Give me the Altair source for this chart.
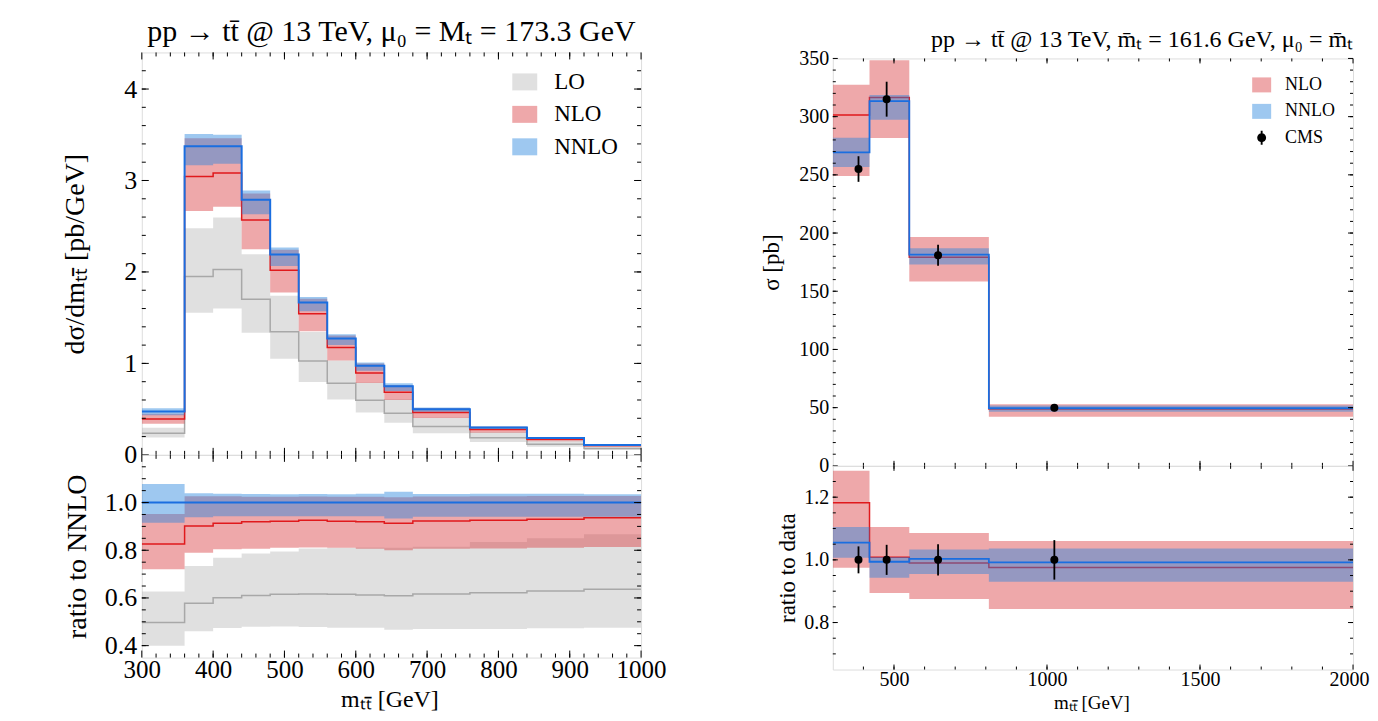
import altair as alt
import pandas as pd

FONT = "Liberation Serif"

# ---------------- left panel: dsigma/dm_tt, pole mass ----------------
L_EDGES = [300, 360, 400, 440, 480, 520, 560, 600, 640, 680, 760, 840, 920, 1000]
L_NNLO_C = [0.473, 3.375, 3.375, 2.790, 2.190, 1.665, 1.273, 0.975, 0.749, 0.500, 0.300, 0.185, 0.109]
L_NNLO_HI = [0.510, 3.507, 3.500, 2.890, 2.267, 1.725, 1.318, 1.011, 0.783, 0.518, 0.311, 0.192, 0.113]
L_NNLO_LO = [0.433, 3.166, 3.183, 2.631, 2.065, 1.570, 1.200, 0.919, 0.699, 0.471, 0.282, 0.174, 0.103]
L_NLO_C = [0.391, 3.044, 3.081, 2.567, 2.019, 1.542, 1.174, 0.896, 0.684, 0.462, 0.278, 0.172, 0.102]
L_NLO_HI = [0.450, 3.463, 3.463, 2.857, 2.243, 1.707, 1.304, 0.998, 0.765, 0.513, 0.308, 0.190, 0.112]
L_NLO_LO = [0.341, 2.666, 2.714, 2.249, 1.774, 1.352, 1.031, 0.786, 0.599, 0.403, 0.242, 0.150, 0.089]
L_LO_C = [0.235, 1.951, 2.028, 1.702, 1.347, 1.027, 0.783, 0.597, 0.456, 0.309, 0.187, 0.116, 0.069]
L_LO_HI = [0.297, 2.477, 2.595, 2.193, 1.741, 1.344, 1.031, 0.792, 0.607, 0.408, 0.251, 0.157, 0.0945]
L_LO_LO = [0.189, 1.553, 1.600, 1.336, 1.051, 0.796, 0.605, 0.463, 0.350, 0.235, 0.141, 0.0875, 0.052]

# ratio to NNLO
LR_NNLO_C = [1.0, 1.0, 1.0, 1.0, 1.0, 1.0, 1.0, 1.0, 1.0, 1.0, 1.0, 1.0, 1.0]
LR_NNLO_HI = [1.078, 1.039, 1.037, 1.036, 1.035, 1.036, 1.035, 1.037, 1.045, 1.036, 1.037, 1.037, 1.035]
LR_NNLO_LO = [0.915, 0.938, 0.943, 0.943, 0.943, 0.943, 0.943, 0.943, 0.933, 0.941, 0.941, 0.941, 0.941]
LR_NLO_C = [0.826, 0.902, 0.913, 0.920, 0.922, 0.926, 0.922, 0.919, 0.913, 0.923, 0.926, 0.930, 0.936]
LR_NLO_HI = [0.952, 1.026, 1.026, 1.024, 1.024, 1.025, 1.024, 1.024, 1.022, 1.025, 1.026, 1.027, 1.028]
LR_NLO_LO = [0.720, 0.790, 0.804, 0.806, 0.810, 0.812, 0.810, 0.806, 0.800, 0.806, 0.807, 0.810, 0.814]
LR_LO_C = [0.497, 0.578, 0.601, 0.610, 0.615, 0.617, 0.615, 0.612, 0.609, 0.617, 0.622, 0.629, 0.636]
LR_LO_HI = [0.627, 0.734, 0.769, 0.786, 0.795, 0.807, 0.810, 0.812, 0.810, 0.815, 0.835, 0.850, 0.867]
LR_LO_LO = [0.400, 0.460, 0.474, 0.479, 0.480, 0.478, 0.475, 0.475, 0.467, 0.470, 0.470, 0.473, 0.475]

L_X_TICKS = [300, 400, 500, 600, 700, 800, 900, 1000]
L_Y_TICKS = [0, 1, 2, 3, 4]
LR_Y_TICKS = [0.4, 0.6, 0.8, 1.0]

# ---------------- right panel: sigma per bin, MSbar mass ----------------
R_EDGES = [300, 420, 550, 810, 2000]
R_CMS_X = [384, 476, 644, 1024]
R_CMS = [255, 315, 181, 50]
R_CMS_LO = [244, 300, 172, 46.9]
R_CMS_HI = [266, 330, 190, 53.1]
R_NLO_C = [301.4, 316.5, 179.2, 48.8]
R_NLO_LO = [249.0, 281.6, 158.4, 42.2]
R_NLO_HI = [327.3, 348.5, 196.6, 53.0]
R_NNLO_C = [269.3, 313.4, 181.5, 49.6]
R_NNLO_LO = [256.7, 297.3, 172.9, 46.5]
R_NNLO_HI = [281.9, 318.5, 187.0, 51.8]

# ratio to data
RR_CMS = [1.0, 1.0, 1.0, 1.0]
RR_CMS_LO = [0.957, 0.952, 0.950, 0.937]
RR_CMS_HI = [1.043, 1.048, 1.050, 1.063]
RR_NLO_C = [1.182, 1.008, 0.990, 0.976]
RR_NLO_LO = [0.975, 0.894, 0.875, 0.843]
RR_NLO_HI = [1.284, 1.105, 1.086, 1.060]
RR_NNLO_C = [1.055, 0.994, 1.003, 0.992]
RR_NNLO_LO = [1.007, 0.943, 0.955, 0.930]
RR_NNLO_HI = [1.105, 1.009, 1.033, 1.036]

R_X_TICKS = [500, 1000, 1500, 2000]
R_Y_TICKS = [0, 50, 100, 150, 200, 250, 300, 350]
RR_Y_TICKS = [0.8, 1.0, 1.2]

# ---------------- styling ----------------
LO_FILL, NLO_FILL, NNLO_FILL = "#bababa", "#d93e42", "#2785de"
LO_LINE, NLO_LINE, NNLO_LINE = "#a8a8a8", "#e0191c", "#1a6ee0"
BAND_OP = 0.45

W_L, H_LM, H_LR = 500, 403, 203
W_R, H_RM, H_RR = 521, 408, 204


class Panel:
    def __init__(self, xdom, ydom, xax, yax, W, H):
        self.xdom, self.ydom, self.xax, self.yax, self.W, self.H = xdom, ydom, xax, yax, W, H

    def X(self, field):
        return alt.X(f"{field}:Q", scale=alt.Scale(domain=self.xdom, nice=False, zero=False),
                     axis=self.xax)

    def Y(self, field):
        return alt.Y(f"{field}:Q", scale=alt.Scale(domain=self.ydom, nice=False, zero=False),
                     axis=self.yax)


def step_df(edges, lo, hi=None, name=""):
    d = {"x": edges, "lo": list(lo) + [lo[-1]], "series": name}
    if hi is not None:
        d["hi"] = list(hi) + [hi[-1]]
    return pd.DataFrame(d)


def band(p, edges, lo, hi, name, fill):
    return alt.Chart(step_df(edges, lo, hi, name)).mark_area(
        interpolate="step-after", opacity=BAND_OP, clip=True
    ).encode(x=p.X("x"), y=p.Y("lo"), y2="hi", fill=fill)


def line(p, edges, vals, color, sw):
    return alt.Chart(step_df(edges, vals)).mark_line(
        interpolate="step-after", strokeWidth=sw, clip=True
    ).encode(x=p.X("x"), y=p.Y("lo"), color=alt.value(color))


def ticks(p, xmaj, xmin, ymaj, ymin, lmaj, lmin):
    out = []
    W, H = p.W, p.H
    for vals, L in ((xmaj, lmaj), (xmin, lmin)):
        d = pd.DataFrame({"t": vals})
        out.append(alt.Chart(d).mark_rule(color="black", strokeWidth=1).encode(
            x=p.X("t"), y=alt.value(H), y2=alt.value(H - L)))
        out.append(alt.Chart(d).mark_rule(color="black", strokeWidth=1).encode(
            x=p.X("t"), y=alt.value(0), y2=alt.value(L)))
    for vals, L in ((ymaj, lmaj), (ymin, lmin)):
        d = pd.DataFrame({"t": vals})
        out.append(alt.Chart(d).mark_rule(color="black", strokeWidth=1).encode(
            y=p.Y("t"), x=alt.value(0), x2=alt.value(L)))
        out.append(alt.Chart(d).mark_rule(color="black", strokeWidth=1).encode(
            y=p.Y("t"), x=alt.value(W), x2=alt.value(W - L)))
    return out


def text_mark(txt, x, y, size, align):
    return alt.Chart(pd.DataFrame({"s": [0]})).mark_text(
        text=txt, font=FONT, fontSize=size, align=align, baseline="alphabetic", color="black"
    ).encode(x=alt.value(x), y=alt.value(y))


def spacer(x1, x2, y):
    return alt.Chart(pd.DataFrame({"s": [0]})).mark_rule(strokeOpacity=0, opacity=0).encode(
        x=alt.value(x1), x2=alt.value(x2), y=alt.value(y))


def yaxis(vals, fmt, title, tx, ty, lsize, tsize, pad):
    return alt.Axis(values=vals, format=fmt, title=title, titleX=tx, titleY=ty,
                    titleBaseline="middle", titleAngle=270, titleFont=FONT, titleFontSize=tsize,
                    titleFontWeight="normal", titleColor="black",
                    labelFont=FONT, labelFontSize=lsize, labelColor="black", labelPadding=pad,
                    ticks=False, tickSize=0, domain=False, grid=False, labelFlush=False,
                    labelOverlap=False)


def xaxis(vals, fmt, title, tx, ty, lsize, tsize, pad, flush=0):
    extra = {"labelFlush": True, "labelFlushOffset": flush} if flush else {"labelFlush": False}
    return alt.Axis(values=vals, format=fmt, title=title, titleX=tx, titleY=ty,
                    titleBaseline="alphabetic", titleFont=FONT, titleFontSize=tsize,
                    titleFontWeight="normal", titleColor="black",
                    labelFont=FONT, labelFontSize=lsize, labelColor="black", labelPadding=pad,
                    ticks=False, tickSize=0, domain=False, grid=False,
                    labelOverlap=False, **extra)


# ---------------- left main ----------------
LXD, LYD, LRD = [300, 1000], [0, 4.4], [0.35, 1.2]
rect_l = "M-1,-0.68H1V0.68H-1Z"
fill_l = alt.Fill("series:N", scale=alt.Scale(domain=["LO", "NLO", "NNLO"],
                                              range=[LO_FILL, NLO_FILL, NNLO_FILL]),
                  legend=alt.Legend(orient="none", legendX=371, legendY=17, title=None,
                                    symbolType=rect_l, symbolSize=625, symbolOpacity=BAND_OP,
                                    symbolStrokeWidth=0, labelFont=FONT, labelFontSize=23,
                                    labelColor="black", labelOffset=17, rowPadding=7.5,
                                    padding=0))
pLM = Panel(LXD, LYD, None, yaxis(L_Y_TICKS, "d", "dσ/dmₜₜ̄ [pb/GeV]", -66, 201.5, 26, 28, 5),
            W_L, H_LM)
left_main = alt.layer(
    band(pLM, L_EDGES, L_LO_LO, L_LO_HI, "LO", fill_l),
    line(pLM, L_EDGES, L_LO_C, LO_LINE, 1.5),
    band(pLM, L_EDGES, L_NLO_LO, L_NLO_HI, "NLO", fill_l),
    line(pLM, L_EDGES, L_NLO_C, NLO_LINE, 1.5),
    band(pLM, L_EDGES, L_NNLO_LO, L_NNLO_HI, "NNLO", fill_l),
    line(pLM, L_EDGES, L_NNLO_C, NNLO_LINE, 2),
    *ticks(pLM, L_X_TICKS, list(range(320, 1000, 20)), L_Y_TICKS,
           [round(0.2 * i, 1) for i in range(1, 22)], 7, 4),
    text_mark("pp → tt̄ @ 13 TeV, μ₀ = Mₜ = 173.3 GeV", W_L / 2, -11, 30, "center"),
    spacer(-133, W_L + 40, -43),
).properties(width=W_L, height=H_LM)

# ---------------- left ratio ----------------
pLR = Panel(LXD, LRD,
            xaxis(L_X_TICKS, "d", "mₜₜ̄ [GeV]", 248, 49, 25, 24, 0),
            yaxis(LR_Y_TICKS, ".1f", "ratio to NNLO", -64, 101.5, 26, 28, 5),
            W_L, H_LR)
left_ratio = alt.layer(
    band(pLR, L_EDGES, LR_LO_LO, LR_LO_HI, "LO", alt.value(LO_FILL)),
    line(pLR, L_EDGES, LR_LO_C, LO_LINE, 1.5),
    band(pLR, L_EDGES, LR_NLO_LO, LR_NLO_HI, "NLO", alt.value(NLO_FILL)),
    line(pLR, L_EDGES, LR_NLO_C, NLO_LINE, 1.5),
    band(pLR, L_EDGES, LR_NNLO_LO, LR_NNLO_HI, "NNLO", alt.value(NNLO_FILL)),
    line(pLR, L_EDGES, LR_NNLO_C, NNLO_LINE, 2),
    *ticks(pLR, L_X_TICKS, list(range(320, 1000, 20)), LR_Y_TICKS,
           [round(0.35 + 0.05 * i, 2) for i in range(1, 17)], 7, 4),
).properties(width=W_L, height=H_LR)

# ---------------- right main ----------------
RXD, RYD, RRD = [300, 2000], [0, 350], [0.65, 1.3]
rect_r = "M-1,-0.79H1V0.79H-1Z"
cms_sym = "M-0.1,-0.74H0.1V0.74H-0.1Z M0.47,0A0.47,0.47 0 1,1 -0.47,0A0.47,0.47 0 1,1 0.47,0Z"
fill_r = alt.Fill("series:N", scale=alt.Scale(domain=["NLO", "NNLO"],
                                              range=[NLO_FILL, NNLO_FILL]),
                  legend=alt.Legend(orient="none", legendX=420, legendY=23, title=None,
                                    symbolType=rect_r, symbolSize=361, symbolOpacity=BAND_OP,
                                    symbolStrokeWidth=0, labelFont=FONT, labelFontSize=18,
                                    labelColor="black", labelOffset=14, rowPadding=7.5,
                                    padding=0))
shape_r = alt.Shape("series:N", scale=alt.Scale(domain=["CMS"], range=[cms_sym]),
                    legend=alt.Legend(orient="none", legendX=420, legendY=76, title=None,
                                      symbolSize=361, symbolOpacity=1, symbolFillColor="black",
                                      symbolStrokeWidth=0, labelFont=FONT, labelFontSize=18,
                                      labelColor="black", labelOffset=14, padding=0))
pRM = Panel(RXD, RYD, None, yaxis(R_Y_TICKS, "d", "σ [pb]", -61, 204, 20, 23, 4), W_R, H_RM)
cms_df = pd.DataFrame({"x": R_CMS_X, "y": R_CMS, "lo": R_CMS_LO, "hi": R_CMS_HI, "series": "CMS"})
right_main = alt.layer(
    band(pRM, R_EDGES, R_NLO_LO, R_NLO_HI, "NLO", fill_r),
    line(pRM, R_EDGES, R_NLO_C, NLO_LINE, 1.5),
    band(pRM, R_EDGES, R_NNLO_LO, R_NNLO_HI, "NNLO", fill_r),
    line(pRM, R_EDGES, R_NNLO_C, NNLO_LINE, 1.8),
    alt.Chart(cms_df).mark_rule(color="black", strokeWidth=1.8).encode(
        x=pRM.X("x"), y=pRM.Y("lo"), y2="hi"),
    alt.Chart(cms_df).mark_circle(size=64, opacity=1, color="black").encode(
        x=pRM.X("x"), y=pRM.Y("y")),
    alt.Chart(cms_df).mark_point(filled=True, opacity=0, color="black").encode(
        x=pRM.X("x"), y=pRM.Y("y"), shape=shape_r),
    *ticks(pRM, R_X_TICKS, list(range(400, 2000, 100)), R_Y_TICKS,
           list(range(10, 350, 10)), 5, 3),
    text_mark("pp → tt̄ @ 13 TeV, m̄ₜ = 161.6 GeV, μ₀ = m̄ₜ", W_R, -11, 24, "right"),
    spacer(-150, W_R + 8, -49),
).properties(width=W_R, height=H_RM)

# ---------------- right ratio ----------------
pRR = Panel(RXD, RRD,
            xaxis(R_X_TICKS, "d", "mₜₜ̄ [GeV]", 259, 39, 20, 19, 0, flush=16),
            yaxis(RR_Y_TICKS, ".1f", "ratio to data", -45, 102, 20, 23, 4),
            W_R, H_RR)
cmsr_df = pd.DataFrame({"x": R_CMS_X, "y": RR_CMS, "lo": RR_CMS_LO, "hi": RR_CMS_HI})
right_ratio = alt.layer(
    band(pRR, R_EDGES, RR_NLO_LO, RR_NLO_HI, "NLO", alt.value(NLO_FILL)),
    line(pRR, R_EDGES, RR_NLO_C, NLO_LINE, 1.5),
    band(pRR, R_EDGES, RR_NNLO_LO, RR_NNLO_HI, "NNLO", alt.value(NNLO_FILL)),
    line(pRR, R_EDGES, RR_NNLO_C, NNLO_LINE, 1.8),
    alt.Chart(cmsr_df).mark_rule(color="black", strokeWidth=1.8).encode(
        x=pRR.X("x"), y=pRR.Y("lo"), y2="hi"),
    alt.Chart(cmsr_df).mark_circle(size=64, opacity=1, color="black").encode(
        x=pRR.X("x"), y=pRR.Y("y")),
    *ticks(pRR, R_X_TICKS, list(range(400, 2000, 100)), RR_Y_TICKS,
           [round(0.65 + 0.05 * i, 2) for i in range(1, 13)], 5, 3),
).properties(width=W_R, height=H_RR)

# an empty strip that lowers the right-hand plots a little
gap = alt.Chart(pd.DataFrame({"s": [0]})).mark_rule(strokeOpacity=0, opacity=0).encode(
    x=alt.value(0), x2=alt.value(1), y=alt.value(0)
).properties(width=W_R, height=6, view=alt.ViewBackground(strokeOpacity=0))

left = alt.vconcat(left_main, left_ratio, spacing=0, bounds="flush").resolve_scale(
    x="independent", y="independent")
right = alt.vconcat(gap, right_main, right_ratio, spacing=0, bounds="flush").resolve_scale(
    x="independent", y="independent")

chart = alt.hconcat(left, right, spacing=0).resolve_scale(
    fill="independent", shape="independent").resolve_legend(
    fill="independent", shape="independent").configure_view(
    stroke="black", strokeWidth=1.2).configure(background="white", padding=0)

chart.save("out.html", embed_options={"renderer": "svg", "actions": False})
